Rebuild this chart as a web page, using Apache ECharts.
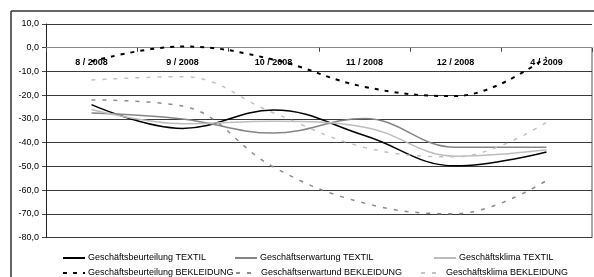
<!DOCTYPE html>
<html>
<head>
<meta charset="utf-8">
<script src="https://cdn.jsdelivr.net/npm/echarts@6/dist/echarts.min.js"></script>
<style>
html,body{margin:0;padding:0;background:#fff;}
#c{width:594px;height:277px;}
</style>
</head>
<body>
<div id="c"></div>
<script>
var categories = ['8 / 2008', '9 / 2008', '10 / 2008', '11 / 2008', '12 / 2008', '4 / 2009'];
var beurteilungTextil = [-24, -34, -26.3, -37, -49.8, -44];
var erwartungTextil = [-27.5, -30, -36, -29.8, -42, -42];
var klimaTextil = [-26, -32, -31, -33.5, -45.7, -43];
var beurteilungBekleidung = [-5.8, 0.5, -5, -16.5, -20.4, -4];
var erwartungBekleidung = [-22, -24.6, -50.3, -65.5, -70, -56];
var klimaBekleidung = [-13.6, -12.2, -27.5, -42, -46, -31.4];
var seriesNames = [
  'Geschäftsbeurteilung TEXTIL',
  'Geschäftserwartung TEXTIL',
  'Geschäftsklima TEXTIL',
  'Geschäftsbeurteilung BEKLEIDUNG',
  'Geschäftserwartund BEKLEIDUNG',
  'Geschäftsklima BEKLEIDUNG'
];
var yMin = -80, yMax = 10, yStep = 10;

var chart = echarts.init(document.getElementById('c'), null, {renderer: 'canvas'});
var FONT = '"Liberation Sans", Arial, sans-serif';
var gridTop = 24, gridBottom = 39.5, H = 277;
// distance from grid top to the value-0 line
var zeroOffset = (yMax - 0) / (yMax - yMin) * (H - gridTop - gridBottom);

function mkSeries(name, data, color, width, dash) {
  return {
    name: name, type: 'line', data: data, smooth: 0.4,
    symbol: 'none', showSymbol: false,
    lineStyle: {color: color, width: width, type: dash || 'solid'},
    itemStyle: {color: color},
    z: 3
  };
}
function mkLegend(name, left, top) {
  return {
    data: [name], left: left, top: top, padding: 0,
    itemWidth: 22, itemHeight: 8, itemGap: 0,
    itemStyle: {opacity: 0},
    textStyle: {fontFamily: FONT, fontSize: 9, color: '#000', padding: [0, 0, 0, -2]},
    selectedMode: false
  };
}

chart.setOption({
  animation: false,
  backgroundColor: '#fff',
  grid: {left: 46, right: 2, top: gridTop, bottom: gridBottom, containLabel: false},
  xAxis: {
    type: 'category', data: categories, boundaryGap: true,
    position: 'top', offset: -zeroOffset,
    axisLine: {onZero: false, lineStyle: {color: '#888', width: 1}},
    axisTick: {show: true, inside: true, length: 4, lineStyle: {color: '#444'}},
    axisLabel: {inside: true, fontFamily: FONT, fontSize: 9, fontWeight: 'bold', color: '#000', margin: 10},
    splitLine: {show: false}
  },
  yAxis: {
    type: 'value', min: yMin, max: yMax, interval: yStep,
    axisLine: {show: true, lineStyle: {color: '#222', width: 1}},
    axisTick: {show: true, length: 4, lineStyle: {color: '#444'}},
    axisLabel: {fontFamily: FONT, fontSize: 9, color: '#000', margin: 7,
      formatter: function (v) { return v.toFixed(1).replace('.', ','); }},
    splitLine: {show: true, lineStyle: {color: '#3a3a3a', width: 1}}
  },
  legend: [
    mkLegend(seriesNames[0], 62, 253.5),
    mkLegend(seriesNames[1], 234, 253.5),
    mkLegend(seriesNames[2], 433, 253.5),
    mkLegend(seriesNames[3], 62, 268.5),
    mkLegend(seriesNames[4], 235, 268.5),
    mkLegend(seriesNames[5], 420, 268.5)
  ],
  graphic: [
    {type: 'line', shape: {x1: 11, y1: 11, x2: 594, y2: 11}, style: {stroke: '#333', lineWidth: 1.5}, silent: true},
    {type: 'line', shape: {x1: 11, y1: 11, x2: 11, y2: 277}, style: {stroke: '#333', lineWidth: 1.5}, silent: true},
    {type: 'line', shape: {x1: 592, y1: 48, x2: 592, y2: 238}, style: {stroke: '#555', lineWidth: 1}, silent: true}
  ],
  series: [
    mkSeries(seriesNames[0], beurteilungTextil, '#000', 1.5),
    mkSeries(seriesNames[1], erwartungTextil, '#858585', 1.5),
    mkSeries(seriesNames[2], klimaTextil, '#bdbdbd', 1.5),
    mkSeries(seriesNames[3], beurteilungBekleidung, '#000', 2, [4, 6]),
    mkSeries(seriesNames[4], erwartungBekleidung, '#8c8c8c', 1.5, [4, 7]),
    mkSeries(seriesNames[5], klimaBekleidung, '#c2c2c2', 1.5, [4, 7])
  ]
});
</script>
</body>
</html>
